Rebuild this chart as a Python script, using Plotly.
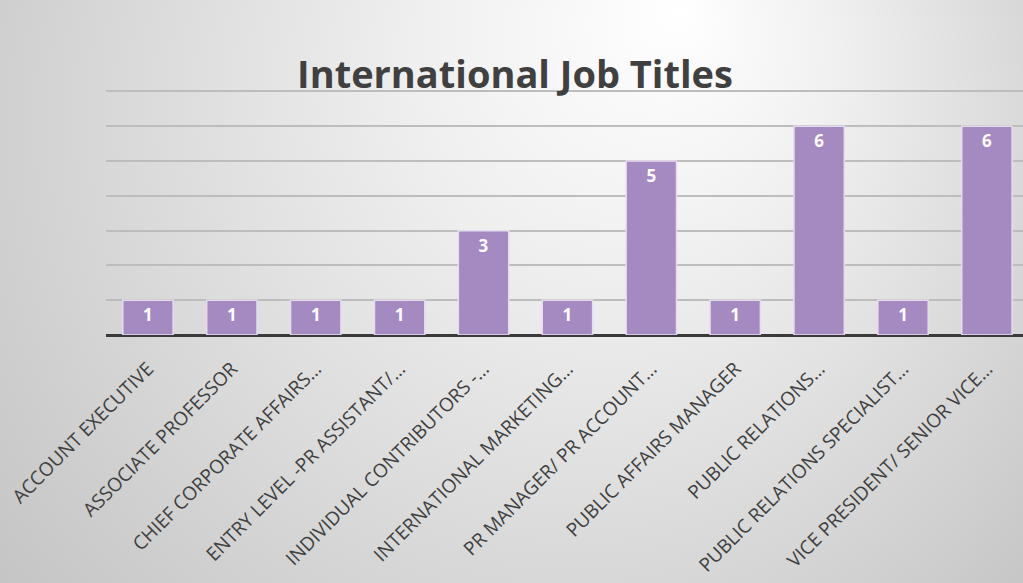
import base64
import plotly.graph_objects as go

categories = [
    "ACCOUNT EXECUTIVE",
    "ASSOCIATE PROFESSOR",
    "CHIEF CORPORATE AFFAIRS…",
    "ENTRY LEVEL -PR ASSISTANT/…",
    "INDIVIDUAL CONTRIBUTORS -…",
    "INTERNATIONAL MARKETING…",
    "PR MANAGER/ PR ACCOUNT…",
    "PUBLIC AFFAIRS MANAGER",
    "PUBLIC RELATIONS…",
    "PUBLIC RELATIONS SPECIALIST…",
    "VICE PRESIDENT/ SENIOR VICE…",
]
counts = [1, 1, 1, 1, 3, 1, 5, 1, 6, 1, 6]
title_text = "International Job Titles"

W, H = 1023, 583
L, R, T, B = 106, 0, 88, 248
pw, ph = W - L - R, H - T - B

svg = f'''<svg xmlns="http://www.w3.org/2000/svg" width="{W}" height="{H}" viewBox="0 0 {W} {H}">
<defs>
<radialGradient id="g" gradientUnits="userSpaceOnUse" cx="520" cy="160" r="680" fx="680" fy="10">
<stop offset="0" stop-color="#ffffff"/>
<stop offset="0.3" stop-color="#f0f0f0"/>
<stop offset="1" stop-color="#c4c4c4"/>
</radialGradient>
</defs>
<rect x="0" y="0" width="{W}" height="{H}" fill="url(#g)"/>
</svg>'''
src = "data:image/svg+xml;base64," + base64.b64encode(svg.encode()).decode()

fig = go.Figure()
fig.add_trace(go.Bar(
    x=categories,
    y=counts,
    marker=dict(color="#a589c1", line=dict(color="#e6dcef", width=1.5)),
    text=[str(v) for v in counts],
    textposition="inside",
    insidetextanchor="end",
    textangle=0,
    textfont=dict(family="Open Sans", size=17, color="#ffffff", weight="bold"),
    width=0.6,
))

fig.update_layout(
    width=W, height=H, autosize=False,
    margin=dict(l=L, r=R, t=T, b=B, pad=0),
    paper_bgcolor="#ffffff",
    plot_bgcolor="rgba(0,0,0,0)",
    showlegend=False,
    title=dict(text="<b>" + title_text + "</b>", x=515 / W, xanchor="center",
               y=1 - 75 / H, yanchor="middle",
               font=dict(family="Open Sans", size=38, color="#404040")),
    images=[dict(source=src, xref="paper", yref="paper",
                 x=-L / pw, y=1 + T / ph, sizex=W / pw, sizey=H / ph,
                 xanchor="left", yanchor="top", sizing="stretch", layer="below")],
    xaxis=dict(range=[-0.5, 10.43], tickangle=-45, showgrid=False, showline=False,
               ticks="", ticklabelstandoff=18,
               tickfont=dict(family="Open Sans", size=19, color="#404040"),
               automargin=False),
    yaxis=dict(range=[0, 7.1], dtick=1, showticklabels=False, showgrid=True,
               gridcolor="#bdbdbd", gridwidth=1.5, zeroline=True,
               zerolinecolor="#3a3a3a", zerolinewidth=3, showline=False,
               automargin=False),
)

fig.write_html("out.html", config={"displayModeBar": False},
               post_script="document.body.style.margin='0';document.body.style.overflow='hidden';")
